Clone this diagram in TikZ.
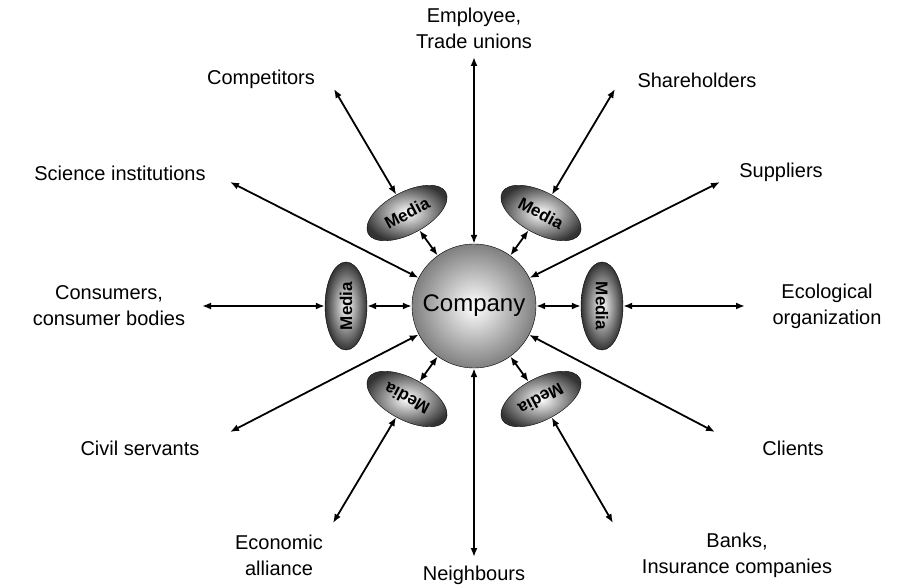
\documentclass[tikz,border=0pt]{standalone}
\usepackage{fontspec}
\setmainfont{Liberation Sans}
\usetikzlibrary{arrows.meta, positioning, shapes.geometric}

\begin{document}
\begin{tikzpicture}[x=1pt, y=-1pt]
	\tikzset{>={Latex[length=9pt,width=7pt]}, link/.style={<->, line width=1.8pt},
		lbl/.style={font=\fontsize{20}{26}\selectfont, align=center, inner sep=0pt},
		media/.style={ellipse, draw, thin, minimum width=88pt, minimum height=42pt, inner sep=0pt, shading=radial, inner color=white, outer color=black!80, font=\fontsize{17}{18}\selectfont\bfseries},
		company/.style={circle, draw, thin, minimum size=124pt, shading=radial, inner color=white, outer color=black!50, font=\fontsize{24}{28}\selectfont} }

	\useasboundingbox (0,0) rectangle (898,588);

	% centre and media rings
	\node[company] (c) at (474,306) {Company};
	\node[media, rotate=90] (mw) at (346,306) {Media};
	\node[media, rotate=-90] (me) at (602,306) {Media};
	\node[media, rotate=28] (mnw) at (407,213) {Media};
	\node[media, rotate=-28] (mne) at (541,213) {Media};
	\node[media, rotate=152] (msw) at (407,399) {Media};
	\node[media, rotate=-152] (mse) at (541,399) {Media};

	% outer groups
	\node[lbl] (emp) at (474,28) {Employee,\\Trade unions};
	\node[lbl] (nei) at (474,575) {Neighbours};
	\node[lbl] (com) at (261,79) {Competitors};
	\node[lbl] (sha) at (697,80) {Shareholders};
	\node[lbl] (sci) at (120,173) {Science institutions};
	\node[lbl] (sup) at (781,172) {Suppliers};
	\node[lbl] (con) at (109,306) {Consumers,\\consumer bodies};
	\node[lbl] (eco) at (827,306) {Ecological\\organization};
	\node[lbl] (civ) at (140,448) {Civil servants};
	\node[lbl] (cli) at (793,448) {Clients};
	\node[lbl] (ecn) at (279,555) {Economic\\alliance};
	\node[lbl] (ban) at (737,555) {Banks,\\Insurance companies};

	% arrow ends next to the groups
	\coordinate (tEmp) at (474,57);
	\coordinate (tNei) at (474,557);
	\coordinate (tCom) at (334,89);
	\coordinate (tSha) at (615,89);
	\coordinate (tSci) at (230,182);
	\coordinate (tSup) at (720,182);
	\coordinate (tCon) at (202,306);
	\coordinate (tEco) at (745,306);
	\coordinate (tCiv) at (230,432);
	\coordinate (tCli) at (715,432);
	\coordinate (tEcn) at (333,523);
	\coordinate (tBan) at (613,523);

	\draw[link, line width=2.6pt] (c) -- (tEmp);
	\draw[link, line width=2.6pt] (c) -- (tNei);
	\foreach \a/\b in {c/tSci, c/tSup, c/tCiv, c/tCli, mnw/tCom, mne/tSha, mw/tCon, me/tEco, msw/tEcn, mse/tBan, mnw/c, mne/c, mw/c, me/c, msw/c, mse/c}
		\draw[link] (\a) -- (\b);
\end{tikzpicture}
\end{document}
